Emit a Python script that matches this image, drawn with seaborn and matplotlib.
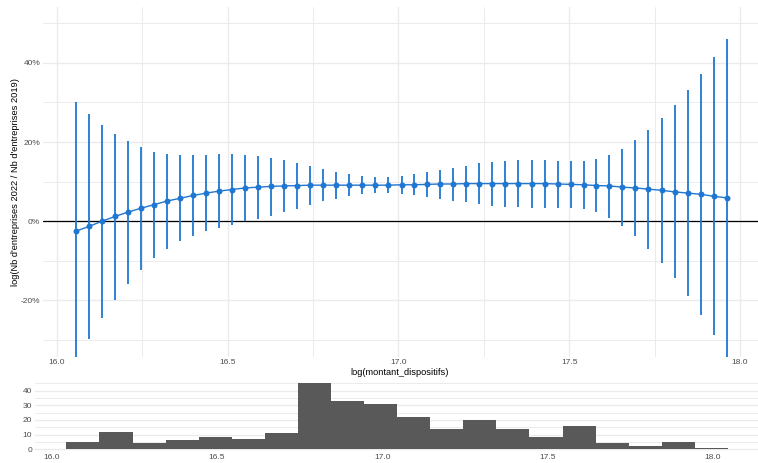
import numpy as np
import pandas as pd
import matplotlib
matplotlib.use("Agg")
import matplotlib.pyplot as plt
from matplotlib.ticker import FixedLocator, FuncFormatter
import seaborn as sns

# ---------------- data ----------------
montant = [16.056, 16.094, 16.132, 16.170, 16.208, 16.247, 16.285, 16.323, 16.361, 16.399,
           16.437, 16.475, 16.513, 16.551, 16.589, 16.628, 16.666, 16.704, 16.742, 16.780,
           16.818, 16.856, 16.894, 16.932, 16.970, 17.009, 17.047, 17.085, 17.123, 17.161,
           17.199, 17.237, 17.275, 17.313, 17.351, 17.390, 17.428, 17.466, 17.504, 17.542,
           17.580, 17.618, 17.656, 17.694, 17.732, 17.771, 17.809, 17.847, 17.885, 17.923,
           17.961]
effet = [-2.5, -1.3, 0.0, 1.2, 2.3, 3.3, 4.2, 5.1, 5.8, 6.5,
         7.1, 7.6, 8.0, 8.4, 8.6, 8.8, 8.9, 9.0, 9.1, 9.1,
         9.1, 9.1, 9.1, 9.1, 9.1, 9.2, 9.2, 9.3, 9.4, 9.4,
         9.5, 9.5, 9.5, 9.5, 9.5, 9.5, 9.5, 9.4, 9.3, 9.2,
         9.0, 8.9, 8.6, 8.4, 8.1, 7.8, 7.4, 7.1, 6.8, 6.3, 5.9]
borne_basse = [-35.0, -29.7, -24.5, -19.8, -15.8, -12.2, -9.3, -6.9, -5.0, -3.7,
               -2.6, -1.7, -0.9, 0.1, 0.6, 1.4, 2.4, 3.2, 4.1, 5.1,
               5.7, 6.4, 6.9, 7.2, 7.2, 6.9, 6.6, 6.2, 5.6, 5.2,
               4.8, 4.3, 3.8, 3.6, 3.5, 3.4, 3.4, 3.4, 3.4, 3.1,
               2.4, 0.9, -1.2, -3.7, -6.9, -10.5, -14.4, -18.9, -23.6, -28.7, -34.5]
borne_haute = [30.0, 27.1, 24.4, 22.1, 20.2, 18.7, 17.5, 16.9, 16.6, 16.6,
               16.7, 17.0, 17.0, 16.7, 16.5, 16.0, 15.4, 14.8, 13.9, 13.2,
               12.4, 11.8, 11.3, 11.1, 11.1, 11.4, 11.9, 12.4, 12.9, 13.4,
               14.0, 14.6, 15.0, 15.3, 15.4, 15.4, 15.4, 15.3, 15.1, 15.2,
               15.6, 16.7, 18.3, 20.4, 23.0, 26.1, 29.4, 33.2, 37.1, 41.4, 46.1]

hist_bin_left = [16.045, 16.145, 16.245, 16.345, 16.445, 16.545, 16.645, 16.745, 16.845, 16.945,
                 17.045, 17.145, 17.245, 17.345, 17.445, 17.545, 17.645, 17.745, 17.845, 17.945]
hist_counts = [5, 12, 4, 6, 8, 7, 11, 45, 33, 31,
               22, 14, 20, 14, 8, 16, 4, 2, 5, 1]
bin_width = 0.1

x_ticks = [16.0, 16.5, 17.0, 17.5, 18.0]
x_tick_labels = ["16.0", "16.5", "17.0", "17.5", "18.0"]
y_ticks = [-20, 0, 20, 40]
y_tick_labels = ["-20%", "0%", "20%", "40%"]
h_ticks = [0, 10, 20, 30, 40]

# ---------------- style ----------------
sns.set_theme(style="white")
plt.rcParams["font.family"] = ["Liberation Sans", "DejaVu Sans"]

BLUE = "#1f77d2"
GRID = "#EBEBEB"
TXT = "#4D4D4D"

W, H = 758, 463
fig = plt.figure(figsize=(W / 100, H / 100), dpi=100)
fig.patch.set_facecolor("white")

# top panel
l, r, t, b = 43, 758, 7, 357
ax1 = fig.add_axes([l / W, 1 - b / H, (r - l) / W, (b - t) / H])
# bottom panel
l2, r2, t2, b2 = 35, 758, 380.0, 452.5
ax2 = fig.add_axes([l2 / W, 1 - b2 / H, (r2 - l2) / W, (b2 - t2) / H])

df = pd.DataFrame({"montant": montant, "effet": effet,
                   "lo": borne_basse, "hi": borne_haute})

ax1.axhline(0, color="black", lw=0.9, zorder=1.5)
ax1.vlines(df["montant"], df["lo"], df["hi"], color=BLUE, lw=1.3, zorder=2)
sns.lineplot(data=df, x="montant", y="effet", ax=ax1, color=BLUE, lw=1.0,
             marker="o", markersize=4.3, markeredgewidth=0, zorder=3)

ax1.set_xlim(15.959, 18.053)
ax1.set_ylim(-34.3, 54.1)
ax1.xaxis.set_major_locator(FixedLocator(x_ticks))
ax1.set_xticklabels(x_tick_labels)
ax1.xaxis.set_minor_locator(FixedLocator([16.25, 16.75, 17.25, 17.75]))
ax1.yaxis.set_major_locator(FixedLocator(y_ticks))
ax1.set_yticklabels(y_tick_labels)
ax1.yaxis.set_minor_locator(FixedLocator([-30, -10, 10, 30, 50]))
ax1.grid(which="major", color=GRID, lw=1.0)
ax1.grid(which="minor", color=GRID, lw=0.7)
ax1.set_axisbelow(True)
ax1.set_xlabel("")
ax1.set_ylabel("")

# histogram
centers = [v + bin_width / 2 for v in hist_bin_left]
edges = hist_bin_left + [hist_bin_left[-1] + bin_width]
sns.histplot(x=centers, weights=hist_counts, bins=edges, ax=ax2,
             color="#595959", alpha=1, edgecolor="none", linewidth=0)
ax2.set_xlim(15.950, 18.136)
ax2.set_ylim(-2.25, 47.25)
ax2.xaxis.set_major_locator(FixedLocator(x_ticks))
ax2.set_xticklabels(x_tick_labels)
ax2.yaxis.set_major_locator(FixedLocator(h_ticks))
ax2.set_yticklabels([str(v) for v in h_ticks])
ax2.yaxis.set_minor_locator(FixedLocator([5, 15, 25, 35, 45]))
ax2.grid(which="major", axis="y", color=GRID, lw=1.0)
ax2.grid(which="minor", axis="y", color=GRID, lw=0.7)
ax2.grid(which="both", axis="x", visible=False)
ax2.set_axisbelow(True)
ax2.set_xlabel("")
ax2.set_ylabel("")

for ax in (ax1, ax2):
    for s in ax.spines.values():
        s.set_visible(False)
    ax.tick_params(axis="both", which="both", length=0, pad=2.0,
                   labelsize=6.0, labelcolor=TXT)
    ax.set_facecolor("white")
ax1.tick_params(axis="x", pad=1.5)
ax2.tick_params(axis="x", pad=1.0)

fig.text(400 / W, 1 - 372.5 / H, "log(montant_dispositifs)", ha="center", va="center",
         fontsize=6.7, color="black")
fig.text(16 / W, 1 - 182 / H, "log(Nb d'entreprises 2022 / Nb d'entreprises 2019)",
         ha="center", va="center", rotation=90, fontsize=6.7, color="black")

fig.savefig("out.png", dpi=100, facecolor="white")
